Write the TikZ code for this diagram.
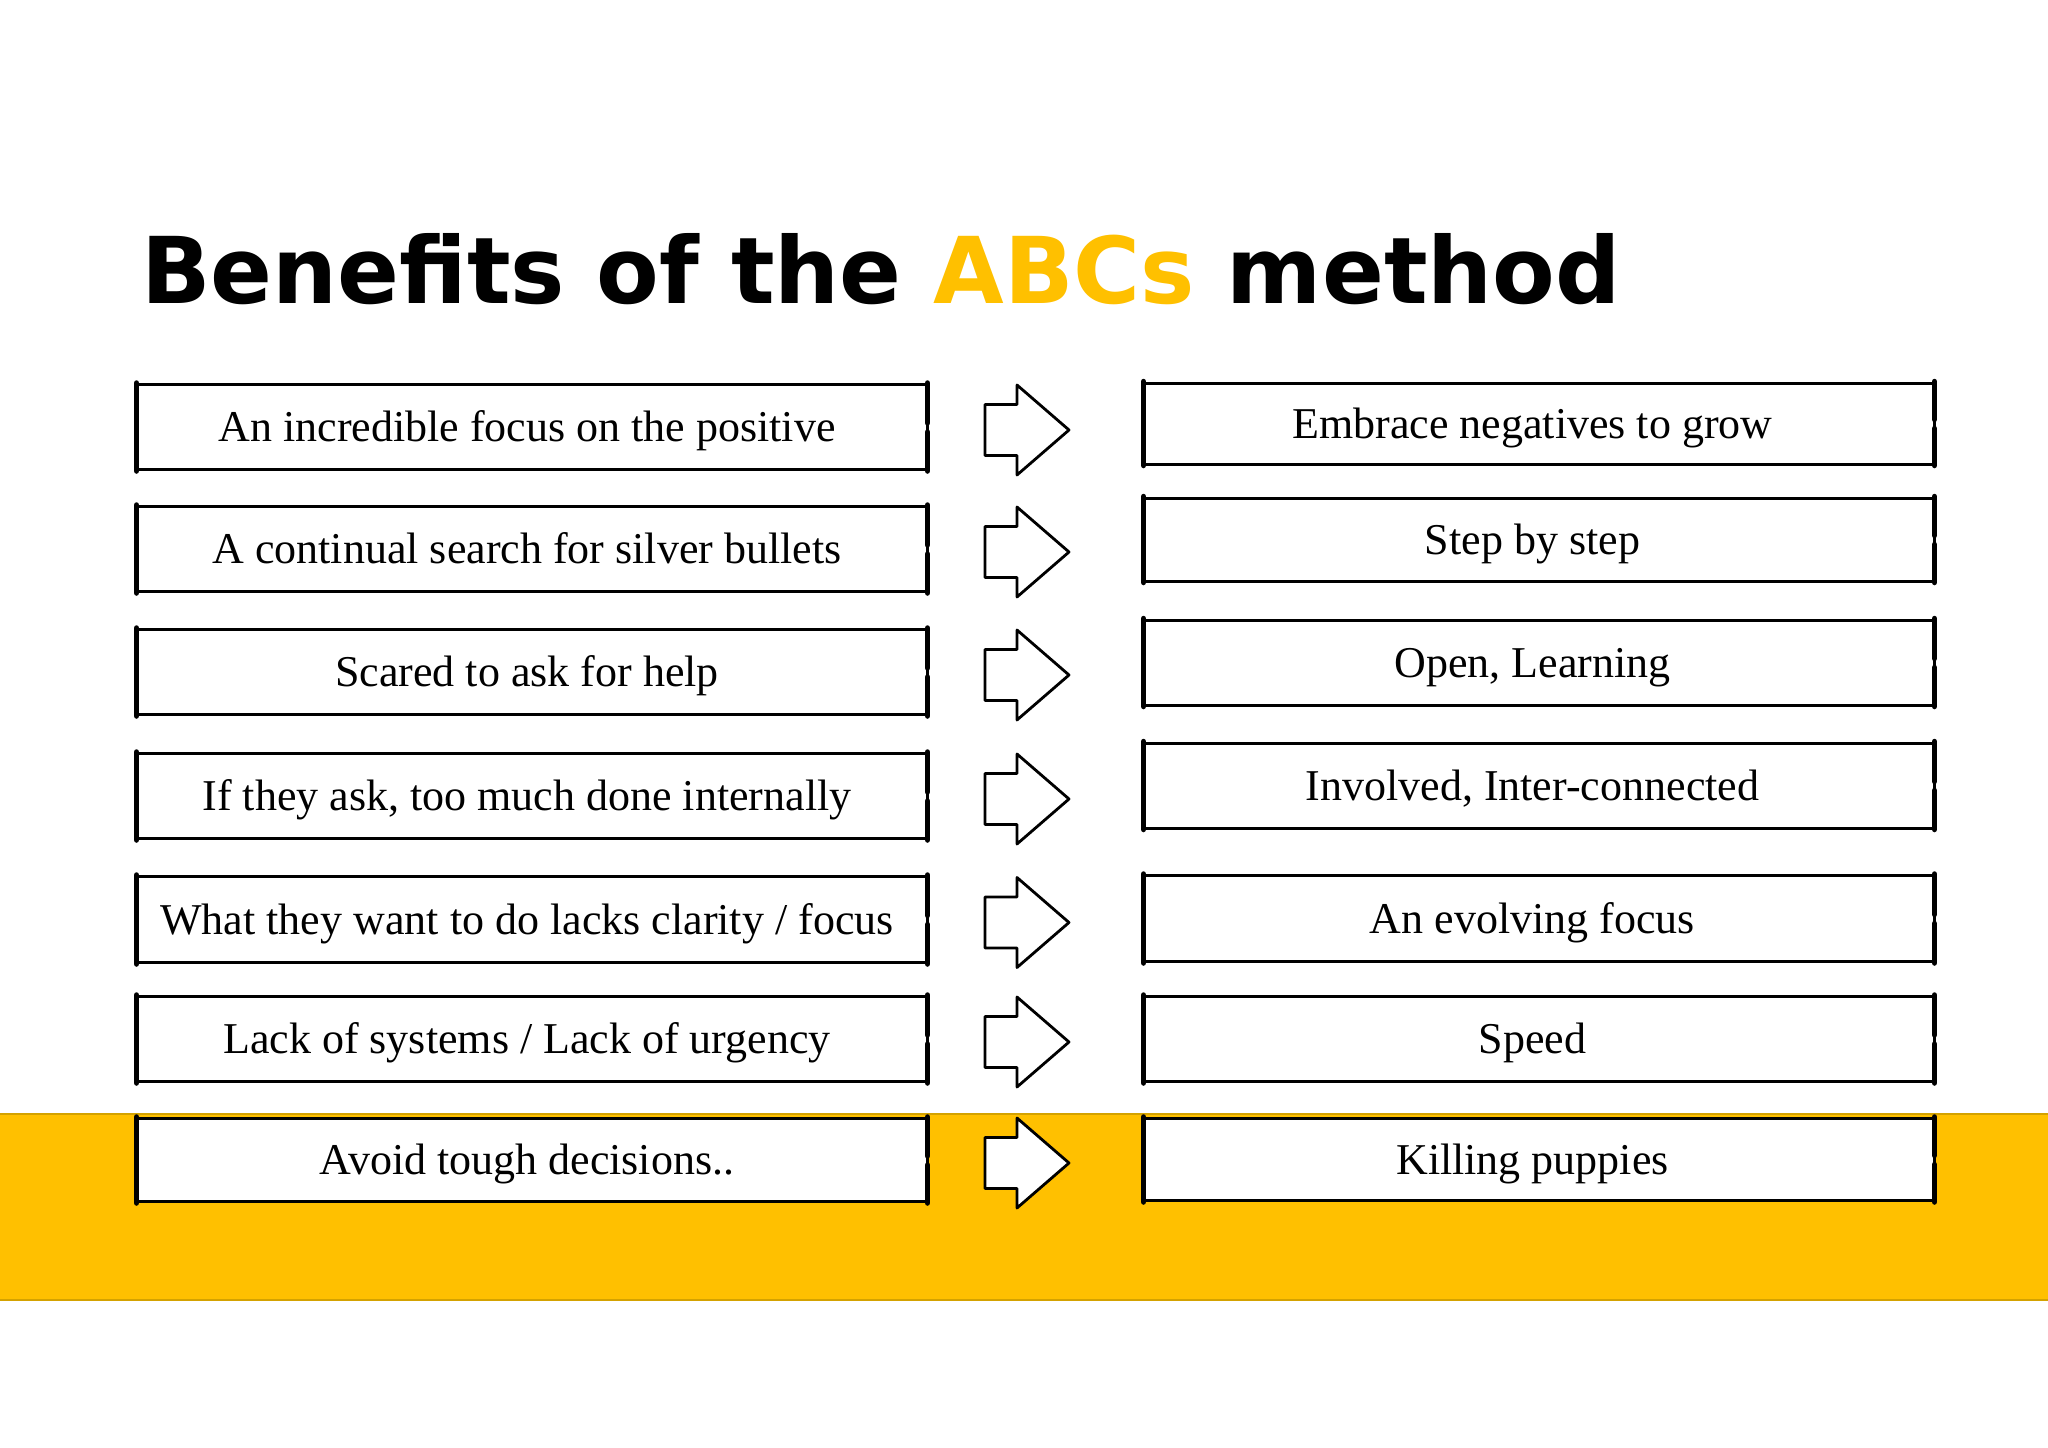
\documentclass[tikz,border=0pt]{standalone}
\usepackage{fontspec}
\setmainfont{Liberation Serif}
\newfontfamily\titlefont{DejaVu Sans}
\usetikzlibrary{calc}
\definecolor{gold}{HTML}{FFC000}
\definecolor{goldedge}{HTML}{D4A200}
\tikzset{
  rowbox/.style={draw=black, line width=3pt, fill=white, minimum width=790pt,
    inner sep=0pt, text height=35pt, text depth=6pt,
    font=\fontsize{44}{50}\selectfont},
  sideline/.style={draw=black, line width=5.5pt, line cap=round},
  blockarrow/.pic={
    \draw[fill=white, line width=2.8pt, line join=round]
      (-42,-25.5) -- (-10,-25.5) -- (-10,-45) -- (42,0) -- (-10,45) -- (-10,25.5) -- (-42,25.5) -- cycle;
  }
}
\begin{document}
\begin{tikzpicture}[x=1pt,y=-1pt]
\useasboundingbox (0,0) rectangle (2048,1448);
\fill[white] (0,0) rectangle (2048,1448);
% band
\fill[gold] (0,1114) rectangle (2048,1300);
\draw[goldedge, line width=1.5pt] (0,1114) -- (2048,1114);
\draw[goldedge, line width=1.5pt] (0,1300) -- (2048,1300);
% title
\node[anchor=base west, inner sep=0pt] (title) at (141,303)
  {\resizebox{1479pt}{70pt}{\titlefont\bfseries Benefits of the {\color{gold}ABCs} method}};
% rows
\foreach \i/\ly/\lh/\ry/\rh/\lt/\rt in {
  1/427/85/423.5/81/{An incredible focus on the positive}/{Embrace negatives to grow},
  2/549/85/539.5/83/{A continual search for silver bullets}/{Step by step},
  3/672/85/662.5/85/{Scared to ask for help}/{Open, Learning},
  4/796/85/785.5/85/{If they ask, too much done internally}/{Involved, Inter-connected},
  5/919.5/86/918.5/86/{What they want to do lacks clarity / focus}/{An evolving focus},
  6/1039/85/1039/85/{Lack of systems / Lack of urgency}/{Speed},
  7/1160/83/1159.5/82/{Avoid tough decisions..}/{Killing puppies}}
{
  \node[rowbox, minimum height=\lh pt] (L\i) at (532,\ly) {\hspace*{-10pt}\lt};
  \node[rowbox, minimum height=\rh pt] (R\i) at (1539,\ry) {\hspace*{-13pt}\rt};
  \draw[sideline] ([xshift=1pt]L\i.north west) -- ([xshift=1pt]L\i.south west);
  \draw[sideline] ([xshift=-1pt]L\i.north east) -- ([xshift=-1pt,yshift=4pt]L\i.east);
  \draw[sideline] ([xshift=-1pt,yshift=-5pt]L\i.east) -- ([xshift=-1pt]L\i.south east);
  \draw[sideline] ([xshift=1pt]R\i.north west) -- ([xshift=1pt]R\i.south west);
  \draw[sideline] ([xshift=-1pt]R\i.north east) -- ([xshift=-1pt,yshift=4pt]R\i.east);
  \draw[sideline] ([xshift=-1pt,yshift=-5pt]R\i.east) -- ([xshift=-1pt]R\i.south east);
  \pic at (1027,{\ly+3}) {blockarrow};
}
\end{tikzpicture}
\end{document}
